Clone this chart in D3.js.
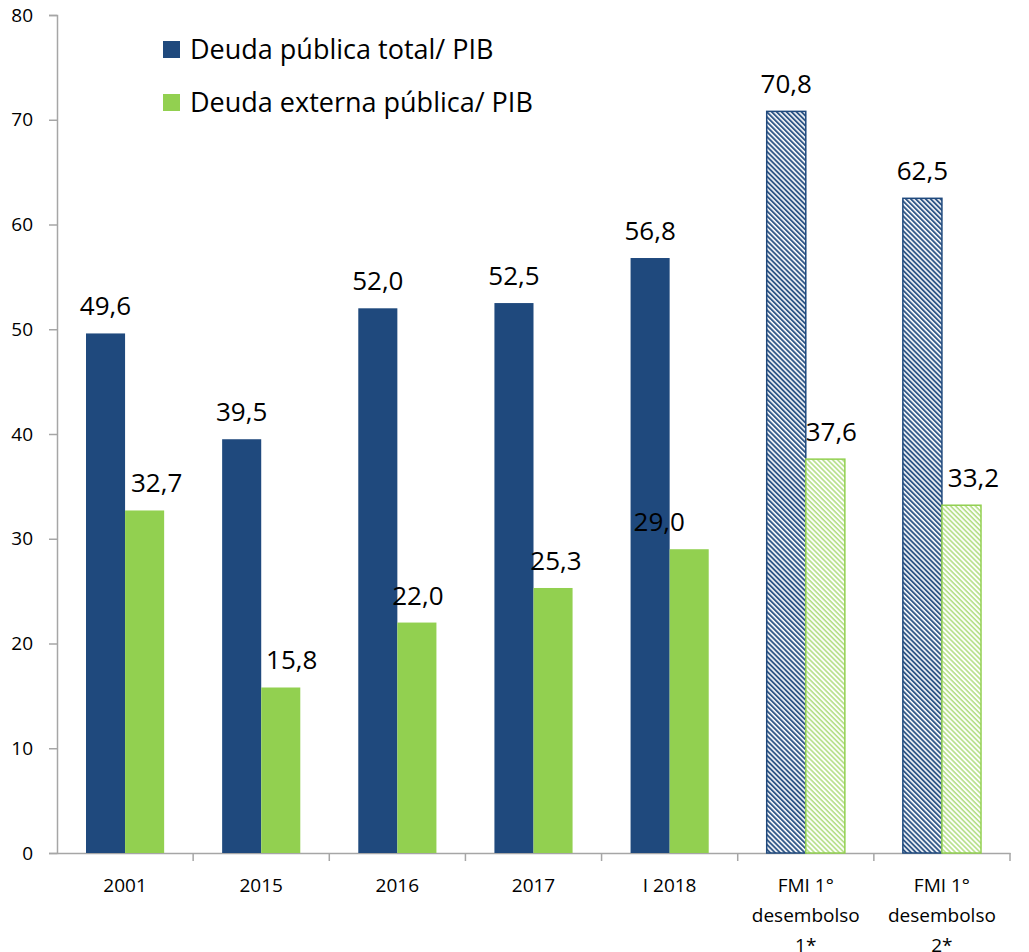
<!DOCTYPE html>
<html lang="es">
	<head>
		<meta charset="utf-8">
		<title>Deuda pública / PIB</title>
		<script type="text/javascript" src="https://cdn.jsdelivr.net/npm/d3@7"></script>
		<style type="text/css">
			body { margin: 0; background: #fff; }
			text { font-family: "Open Sans", sans-serif; fill: #000; }
			.tick text { font-size: 19px; }
		</style>
	</head>
	<body>
		<script type="text/javascript">
			var w = 1029;
			var h = 952;

			var categories = ["2001", "2015", "2016", "2017", "I 2018", "FMI 1° desembolso 1*", "FMI 1° desembolso 2*"];
			var seriesNames = ["Deuda pública total/ PIB", "Deuda externa pública/ PIB"];
			var deudaTotal = [49.6, 39.5, 52.0, 52.5, 56.8, 70.8, 62.5];
			var deudaExterna = [32.7, 15.8, 22.0, 25.3, 29.0, 37.6, 33.2];
			var projected = [false, false, false, false, false, true, true];
			var yTicks = [0, 10, 20, 30, 40, 50, 60, 70, 80];
			// small nudges of the green labels, as in the original
			var labelShift = [12, 11, 1, 3, -30, 6, 12];

			var colors = ["#1F497D", "#92D050"];

			var margin = { top: 15, right: 19, bottom: 99, left: 57 };

			var svg = d3.select("body")
						.append("svg")
						.attr("width", w)
						.attr("height", h);

			// hatch patterns for the FMI bars
			var defs = svg.append("defs");
			colors.forEach(function(c, i) {
				var p = defs.append("pattern")
					.attr("id", "hatch" + i)
					.attr("patternUnits", "userSpaceOnUse")
					.attr("width", 3.5)
					.attr("height", 3.5)
					.attr("patternTransform", "rotate(-45)");
				p.append("rect").attr("width", 3.5).attr("height", 3.5).attr("fill", "#fff");
				p.append("line")
					.attr("x1", 1).attr("x2", 1)
					.attr("y1", 0).attr("y2", 3.5)
					.attr("stroke", c)
					.attr("stroke-width", i == 0 ? 1.9 : 1.6)
					.attr("opacity", i == 0 ? 0.95 : 0.7);
			});

			var xScale = d3.scaleBand()
				.domain(categories)
				.range([margin.left, w - margin.right]);

			var bw = xScale.bandwidth();
			var xInner = d3.scaleBand()
				.domain([0, 1])
				.range([bw * 0.213, bw * 0.787]);

			var yScale = d3.scaleLinear()
				.domain([0, 80])
				.range([h - margin.bottom, margin.top]);

			// title, mostly cut off at the top edge
			svg.append("text")
				.attr("x", 613)
				.attr("y", -6)
				.attr("text-anchor", "middle")
				.style("font-size", "32px")
				.style("font-weight", "bold")
				.text("(en %)");

			// y axis
			var yAxis = d3.axisLeft(yScale)
				.tickValues(yTicks)
				.tickSize(8)
				.tickPadding(16);
			var gy = svg.append("g")
				.attr("transform", "translate(" + margin.left + ",0)")
				.call(yAxis);
			gy.select(".domain").attr("stroke", "#a6a6a6").attr("stroke-width", 1.5);
			gy.selectAll(".tick line").attr("stroke", "#a6a6a6").attr("stroke-width", 1.5);

			// x axis
			var xAxis = d3.axisBottom(xScale).tickSize(0).tickPadding(0).tickFormat("");
			var gx = svg.append("g")
				.attr("transform", "translate(0," + yScale(0) + ")")
				.call(xAxis);
			gx.select(".domain").attr("stroke", "#a6a6a6").attr("stroke-width", 1.5);
			gx.selectAll(".tick").remove();

			// tick marks between categories
			gx.selectAll(".sep")
				.data(categories)
				.enter()
				.append("line")
				.attr("x1", function(d) { return xScale(d) + bw; })
				.attr("x2", function(d) { return xScale(d) + bw; })
				.attr("y1", 0)
				.attr("y2", 8)
				.attr("stroke", "#a6a6a6")
				.attr("stroke-width", 1.5);

			// category labels (wrapped)
			var catLines = [["2001"], ["2015"], ["2016"], ["2017"], ["I 2018"], ["FMI 1°", "desembolso", "1*"], ["FMI 1°", "desembolso", "2*"]];
			categories.forEach(function(c, i) {
				var t = svg.append("text")
					.attr("x", xScale(c) + bw / 2)
					.attr("y", yScale(0) + 39)
					.attr("text-anchor", "middle")
					.style("font-size", "19px");
				catLines[i].forEach(function(line, j) {
					t.append("tspan")
						.attr("x", xScale(c) + bw / 2)
						.attr("dy", j == 0 ? 0 : 30)
						.text(line);
				});
			});

			var rows = categories.map(function(c, i) {
				return { cat: c, vals: [deudaTotal[i], deudaExterna[i]], hatch: projected[i], idx: i };
			});

			var groups = svg.selectAll(".grp")
				.data(rows)
				.enter()
				.append("g")
				.attr("transform", function(d) { return "translate(" + xScale(d.cat) + ",0)"; });

			groups.selectAll("rect")
				.data(function(d) { return d.vals.map(function(v, k) { return { v: v, k: k, hatch: d.hatch }; }); })
				.enter()
				.append("rect")
				.attr("x", function(d) { return xInner(d.k); })
				.attr("y", function(d) { return yScale(d.v); })
				.attr("width", xInner.bandwidth())
				.attr("height", function(d) { return yScale(0) - yScale(d.v); })
				.attr("fill", function(d) { return d.hatch ? "url(#hatch" + d.k + ")" : colors[d.k]; })
				.attr("stroke", function(d) { return d.hatch ? colors[d.k] : "none"; })
				.attr("stroke-width", 1.5);

			groups.selectAll(".val")
				.data(function(d) { return d.vals.map(function(v, k) { return { v: v, k: k, i: d.idx }; }); })
				.enter()
				.append("text")
				.attr("x", function(d) { return xInner(d.k) + xInner.bandwidth() / 2 + (d.k == 1 ? labelShift[d.i] : 0); })
				.attr("y", function(d) { return yScale(d.v) - 18; })
				.attr("text-anchor", "middle")
				.style("font-size", "26px")
				.text(function(d) { return d3.format(".1f")(d.v).replace(".", ","); });

			// legend
			var legend = svg.selectAll(".leg")
				.data(seriesNames)
				.enter()
				.append("g")
				.attr("transform", function(d, i) { return "translate(163," + (41 + i * 53) + ")"; });
			legend.append("rect")
				.attr("width", 17)
				.attr("height", 17)
				.attr("fill", function(d, i) { return colors[i]; });
			legend.append("text")
				.attr("x", 27)
				.attr("y", 18)
				.style("font-size", "27px")
				.text(function(d) { return d; });
		</script>
	</body>
</html>
